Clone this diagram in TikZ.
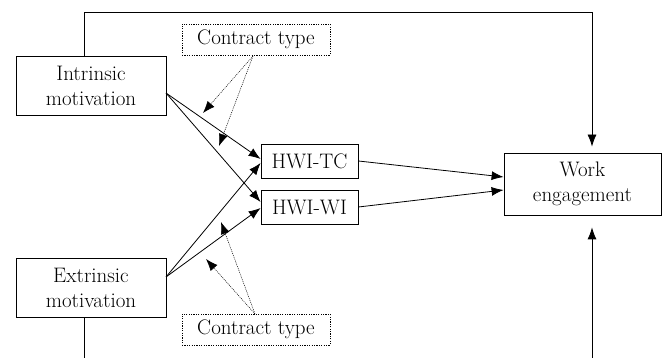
\documentclass[tikz,border=0pt]{standalone}
\usepackage{fontspec}
\setmainfont{Latin Modern Roman}
\usetikzlibrary{arrows.meta}
\begin{document}
\begin{tikzpicture}[x=1pt,y=-1pt,
  txt/.style={font=\fontsize{21}{25}\selectfont},
  box/.style={txt,draw,line width=0.8pt,align=center,inner sep=0pt},
  ctbox/.style={txt,draw,line width=0.6pt,dash pattern=on 1.2pt off 1.2pt,inner sep=0pt},
  arr/.style={line width=0.8pt,-{Latex[length=12pt,width=9pt]}},
  darr/.style={line width=0.5pt,dash pattern=on 1pt off 1pt,-{Latex[length=12pt,width=9pt]}},
  ln/.style={line width=0.8pt}]
\useasboundingbox (0,0) rectangle (667,358);
\clip (0,0) rectangle (667,358);
\node[box,minimum width=150pt,minimum height=59pt] (intr) at (91,85.5) {Intrinsic\\motivation};
\node[box,minimum width=150pt,minimum height=59pt] (extr) at (91,287.5) {Extrinsic\\motivation};
\node[ctbox,minimum width=148pt,minimum height=31pt] (ct1) at (256,39.5) {Contract type};
\node[ctbox,minimum width=148pt,minimum height=31pt] (ct2) at (256,329.5) {Contract type};
\node[box,minimum width=97pt,minimum height=34pt] (tc) at (309.5,161) {HWI-TC};
\node[box,minimum width=97pt,minimum height=34pt] (wi) at (309.5,207) {HWI-WI};
\node[box,minimum width=157pt,minimum height=62pt] (we) at (582.5,184) {Work\\engagement};
% connectors
\coordinate (is) at (166,93);
\coordinate (es) at (166,277);
\draw[arr] (is) -- (tc.west |- 0,159);
\draw[arr] (is) -- (wi.west |- 0,202);
\draw[arr] (es) -- (tc.west |- 0,163);
\draw[arr] (es) -- (wi.west |- 0,208);
\draw[arr] (tc.east) -- (we.west |- 0,177);
\draw[arr] (wi.east) -- (we.west |- 0,190);
% moderators
\coordinate (c1s) at (253,56);
\coordinate (c2s) at (255,314);
\coordinate (m1) at (203,113);
\coordinate (m2) at (219,146);
\coordinate (m3) at (206,259);
\coordinate (m4) at (221,222);
\draw[darr] (c1s) -- (m1);
\draw[darr] (c1s) -- (m2);
\draw[darr] (c2s) -- (m3);
\draw[darr] (c2s) -- (m4);
% direct paths
\coordinate (tl) at (84,12);
\coordinate (tr) at (592,12);
\coordinate (bl) at (84,370);
\coordinate (br) at (592,370);
\draw[arr,shorten >=6pt] (intr.north -| tl) -- (tl) -- (tr) -- (we.north -| tr);
\draw[ln] (extr.south -| bl) -- (bl);
\draw[arr,shorten >=12pt] (br) -- (we.south -| br);
\end{tikzpicture}
\end{document}
